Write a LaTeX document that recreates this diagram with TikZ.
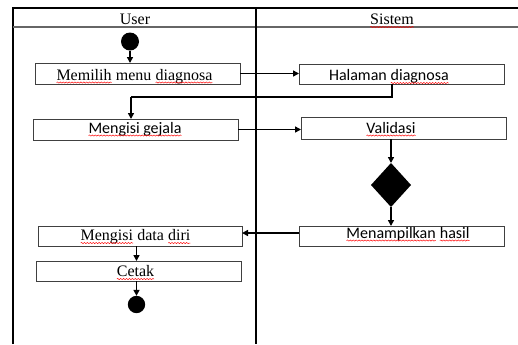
\documentclass[tikz,border=0pt]{standalone}
\usepackage{fontspec}
\setmainfont{Liberation Serif}
\newfontfamily\calib{Carlito}
\usetikzlibrary{arrows.meta,shapes.geometric,decorations.pathmorphing}
\newcommand\sq[1]{\tikz[baseline=(w.base)]{\node[shape=rectangle,draw=none,fill=none,inner sep=0pt,outer sep=0pt,minimum size=0pt,anchor=base] (w) at (0,0) {#1};\draw[draw=red,fill=none,line width=0.35pt,decorate,decoration={snake,amplitude=0.45pt,segment length=2.2pt}] ([yshift=-1.9pt]w.base west) -- ([yshift=-1.9pt]w.base east);}}
\begin{document}
\begin{tikzpicture}[x=0.75pt,y=-0.75pt,
  frame/.style={draw=black,line width=0.8pt},
  box/.style={draw=black!75,line width=0.75pt,fill=none,inner sep=0pt,outer sep=0pt,minimum width=153.75pt,minimum height=15pt},
  conn/.style={draw=black,line width=1.3pt},
  arr/.style={conn,-{Triangle[length=4.5pt,width=4.5pt]}},
  dot/.style={circle,fill=black,inner sep=0pt,outer sep=0pt},
  serif/.style={font=\fontsize{12}{14}\selectfont,anchor=base,inner sep=0pt},
  sans/.style={font=\calib\fontsize{12}{14}\selectfont,anchor=base,inner sep=0pt}]
\useasboundingbox (0,0) rectangle (518,344);
% swimlane frame
\draw[frame] (13,344) -- (13,8) -- (518,8);
\draw[draw=black!60,line width=0.8pt] (13,27) -- (518,27);
\draw[frame] (256,8) -- (256,344);
\node[serif] (hu) at (135,24.5) {User};
\node[serif] (hs) at (392,24.5) {\sq{Sistem}};
% boxes
\node[box,minimum height=15.75pt] (b1) at (137.5,73.5) {};
\node[box] (b2) at (401.5,74) {};
\node[box,minimum height=15.75pt] (b3) at (135.5,129.5) {};
\node[box,minimum height=16.5pt] (b4) at (403.5,128) {};
\node[box] (b5) at (401.5,236) {};
\node[box,minimum width=153pt] (b6) at (140,236) {};
\node[box] (b7) at (138.5,271) {};
% texts
\node[serif] (t1) at (134.5,80) {\sq{Memilih} menu \sq{diagnosa}};
\node[sans] (t2) at (389,80.5) {Halaman \sq{diagnosa}};
\node[sans] (t3) at (135,133) {\sq{Mengisi gejala}};
\node[sans] (t4) at (391,133) {\sq{Validasi}};
\node[sans] (t5) at (408,238) {\sq{Menampilkan} \sq{hasil}};
\node[serif] (t6) at (135.5,240.5) {\sq{Mengisi} data \sq{diri}};
\node[serif] (t7) at (135.5,276.5) {\sq{Cetak}};
% start, decision, end
\node[dot,minimum size=13.5pt] (s) at (130,41.5) {};
\node[diamond,fill=black,inner sep=0pt,outer sep=0pt,minimum width=30pt,minimum height=33pt] (d) at (391,185) {};
\node[dot,minimum size=13pt] (e) at (136.5,304.5) {};
% connectors
\coordinate (j1) at (392,97);
\coordinate (j2) at (131,97);
\draw[arr] (s.south) -- (s.south |- b1.north);
\draw[arr] (b1.east) -- (b1.east -| b2.west);
\draw[conn] (j1 |- b2.south) -- (j1) -- (j2);
\draw[arr] (j2) -- (j2 |- b3.north);
\draw[arr] (b3.east) -- (b3.east -| b4.west);
\draw[arr] (d |- b4.south) -- (d.north);
\draw[arr] (d.south) -- (d.south |- b5.north);
\draw[arr] ([yshift=2.25pt]b5.west) -- ([yshift=2.25pt]b6.east);
\draw[arr] (e |- b6.south) -- (e |- b7.north);
\draw[arr] (e |- b7.south) -- (e.north);
\end{tikzpicture}
\end{document}
